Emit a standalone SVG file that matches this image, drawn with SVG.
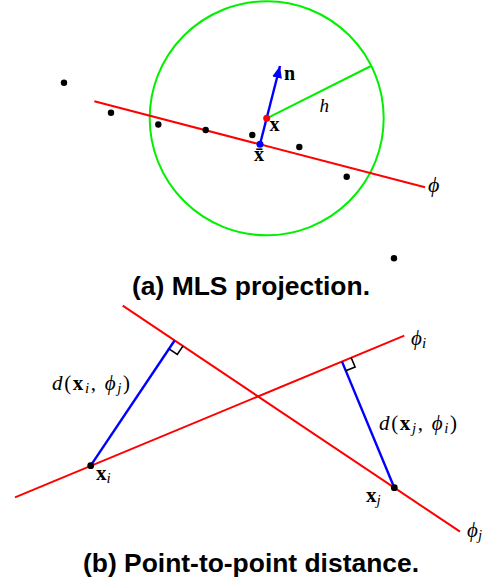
<svg xmlns="http://www.w3.org/2000/svg" width="490" height="588" viewBox="0 0 490 588">
<style>
.red{stroke:#ff0000;stroke-width:2;fill:none}
.green{stroke:#00f000;stroke-width:2;fill:none}
.blue{stroke:#0000ff;stroke-width:2.4;fill:none}
.ra{stroke:#000;stroke-width:1.6;fill:none}
.dot{fill:#000}
.m{font-family:"Liberation Serif","DejaVu Serif",serif;fill:#000}
.cap{font-family:"Liberation Sans",Arial,sans-serif;font-weight:bold;font-size:26px;fill:#000}
</style>
<defs>
<marker id="arr" markerUnits="userSpaceOnUse" markerWidth="14" markerHeight="10" refX="12" refY="5" orient="auto">
<path d="M0,0 L12,5 L0,10 Z" fill="#0000ff"/>
</marker>
</defs>
<rect width="490" height="588" fill="#fff"/>
<!-- (a) MLS projection -->
<g id="connectors-a">
<circle id="support" class="green" cx="266.7" cy="118.3" r="117"/>
<line id="radius-h" class="green" x1="266.7" y1="118.3" x2="371" y2="66"/>
<line id="phi-line" class="red" x1="94.3" y1="101.3" x2="425" y2="187.3"/>
<line id="normal-n" class="blue" x1="260" y1="144.3" x2="280" y2="66" marker-end="url(#arr)"/>
</g>
<g id="samples">
<circle class="dot" cx="64" cy="82.7" r="3.2"/>
<circle class="dot" cx="111" cy="112.7" r="3.2"/>
<circle class="dot" cx="158.3" cy="124.5" r="3.2"/>
<circle class="dot" cx="205.7" cy="130" r="3.2"/>
<circle class="dot" cx="252.3" cy="135" r="3.2"/>
<circle class="dot" cx="299.3" cy="147" r="3.2"/>
<circle class="dot" cx="346.7" cy="176.7" r="3.2"/>
<circle class="dot" cx="394" cy="258.3" r="3.2"/>
</g>
<g id="point-x">
<circle cx="266.7" cy="118.3" r="3.5" fill="#ff0000"/>
<text class="m" x="269.5" y="131" font-size="20" font-weight="bold">x</text>
</g>
<g id="point-xbar">
<circle cx="260" cy="144.3" r="3.5" fill="#0000ff"/>
<text class="m" x="254" y="161" font-size="20" font-weight="bold">x̄</text>
</g>
<g id="labels-a">
<text class="m" x="284" y="80" font-size="20" font-weight="bold">n</text>
<text class="m" x="319.5" y="112" font-size="19" font-style="italic">h</text>
<text class="m" x="428" y="192" font-size="22" font-style="italic">ϕ</text>
</g>
<text id="caption-a" class="cap" x="132" y="295" textLength="238" lengthAdjust="spacingAndGlyphs">(a) MLS projection.</text>
<!-- (b) Point-to-point distance -->
<g id="connectors-b">
<line id="phi-j" class="red" x1="122.7" y1="305.7" x2="460" y2="531.7"/>
<line id="phi-i" class="red" x1="15" y1="497.3" x2="404.3" y2="335.7"/>
<line id="dist-ij" class="blue" x1="90.7" y1="465.7" x2="174.6" y2="340.5"/>
<line id="dist-ji" class="blue" x1="394.3" y1="487.7" x2="342" y2="361.6"/>
<path class="ra" d="M169,348.8 L177.3,354.4 L182.9,346.1"/>
<path class="ra" d="M345.8,370.8 L355.1,367 L351.2,357.8"/>
</g>
<g id="point-xi">
<circle class="dot" cx="90.7" cy="465.7" r="3.4"/>
<text class="m" x="96" y="480" font-size="21"><tspan font-weight="bold">x</tspan><tspan font-style="italic" font-size="15" dy="3">i</tspan></text>
</g>
<g id="point-xj">
<circle class="dot" cx="394.3" cy="487.7" r="3.4"/>
<text class="m" x="366" y="501.5" font-size="21"><tspan font-weight="bold">x</tspan><tspan font-style="italic" font-size="15" dy="3">j</tspan></text>
</g>
<g id="labels-b">
<text class="m" x="52" y="390" font-size="21" textLength="78" lengthAdjust="spacing"><tspan font-style="italic">d</tspan>(<tspan font-weight="bold">x</tspan><tspan font-style="italic" font-size="15" dy="3">i</tspan><tspan dy="-3">,</tspan><tspan font-style="italic"> ϕ</tspan><tspan font-style="italic" font-size="15" dy="3">j</tspan><tspan dy="-3">)</tspan></text>
<text class="m" x="379" y="430" font-size="21" textLength="78" lengthAdjust="spacing"><tspan font-style="italic">d</tspan>(<tspan font-weight="bold">x</tspan><tspan font-style="italic" font-size="15" dy="3">j</tspan><tspan dy="-3">,</tspan><tspan font-style="italic"> ϕ</tspan><tspan font-style="italic" font-size="15" dy="3">i</tspan><tspan dy="-3">)</tspan></text>
<text class="m" x="411" y="345" font-size="21"><tspan font-style="italic">ϕ</tspan><tspan font-style="italic" font-size="15" dy="3">i</tspan></text>
<text class="m" x="467" y="537" font-size="21"><tspan font-style="italic">ϕ</tspan><tspan font-style="italic" font-size="15" dy="3">j</tspan></text>
</g>
<text id="caption-b" class="cap" x="83" y="572" textLength="336" lengthAdjust="spacingAndGlyphs">(b) Point-to-point distance.</text>
</svg>
